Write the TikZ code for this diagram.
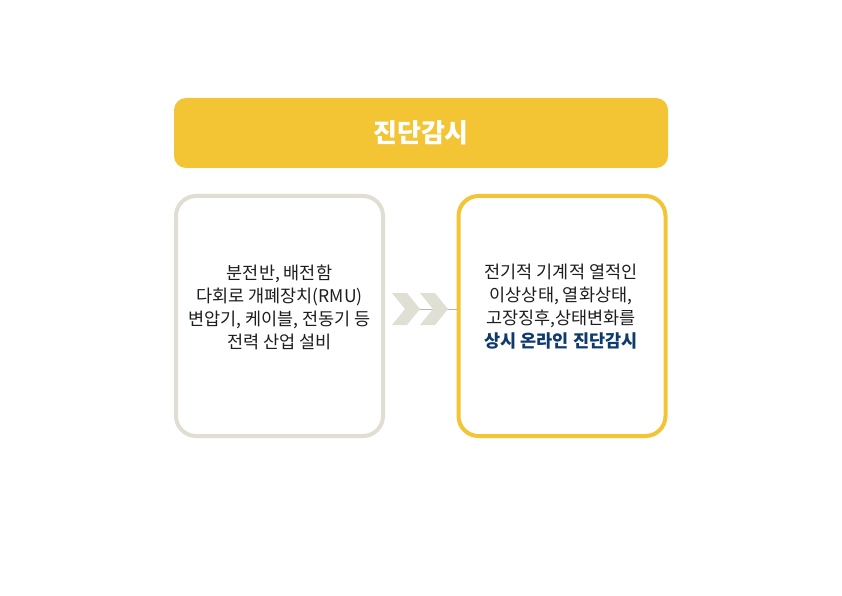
\documentclass[tikz,border=0pt]{standalone}
\usepackage{fontspec}
\setmainfont{Noto Sans CJK KR}
\newfontfamily\kr{Noto Sans CJK KR}
\definecolor{ygold}{HTML}{F3C433}
\definecolor{boxgray}{HTML}{E0DED2}
\definecolor{chevgray}{HTML}{E0DFD3}
\definecolor{txtdark}{HTML}{1E1E1E}
\definecolor{navy}{HTML}{0E3B6C}
\definecolor{linegray}{HTML}{B5B5B5}
\tikzset{
  panel/.style={draw, line width=4pt, rounded corners=20pt, fill=white, minimum width=207pt, minimum height=240pt, inner sep=0pt},
  bodytext/.style={font=\kr\fontsize{17.5}{23}\selectfont, text=txtdark, align=center},
  chev/.style={fill=chevgray, draw=none},
}
\begin{document}
\begin{tikzpicture}[x=1pt,y=1pt]
\useasboundingbox (0,0) rectangle (842,595);
\fill[white] (0,0) rectangle (842,595);
% title bar
\node[fill=ygold, rounded corners=12pt, minimum width=494pt, minimum height=70pt, inner sep=0pt,
      font=\kr\bfseries\fontsize{26}{30}\selectfont, text=white] (title) at (421,462) {진단감시};
% panels
\node[panel, draw=boxgray] (left) at (279.5,279) {};
\node[panel, draw=ygold] (right) at (562,279) {};
% texts
\node[bodytext] (ltext) at (279.5,288) {분전반, 배전함\\다회로 개폐장치(RMU)\\변압기, 케이블, 전동기 등\\전력 산업 설비};
\node[bodytext] (rtext) at (561,288) {전기적 기계적 열적인\\이상상태, 열화상태,\\고장징후,상태변화를\\\textcolor{navy}{\bfseries 상시 온라인 진단감시}};
% connector line
\coordinate (tip1) at (418,286);
\draw[linegray, line width=0.8pt] (tip1) -- (tip1 -| right.west);
% chevrons
\fill[chev] (392,302) -- (407,302) -- (420,286) -- (407,270) -- (392,270) -- (405,286) -- cycle;
\fill[chev] (420,302) -- (435,302) -- (448,286) -- (435,270) -- (420,270) -- (433,286) -- cycle;
\end{tikzpicture}
\end{document}
